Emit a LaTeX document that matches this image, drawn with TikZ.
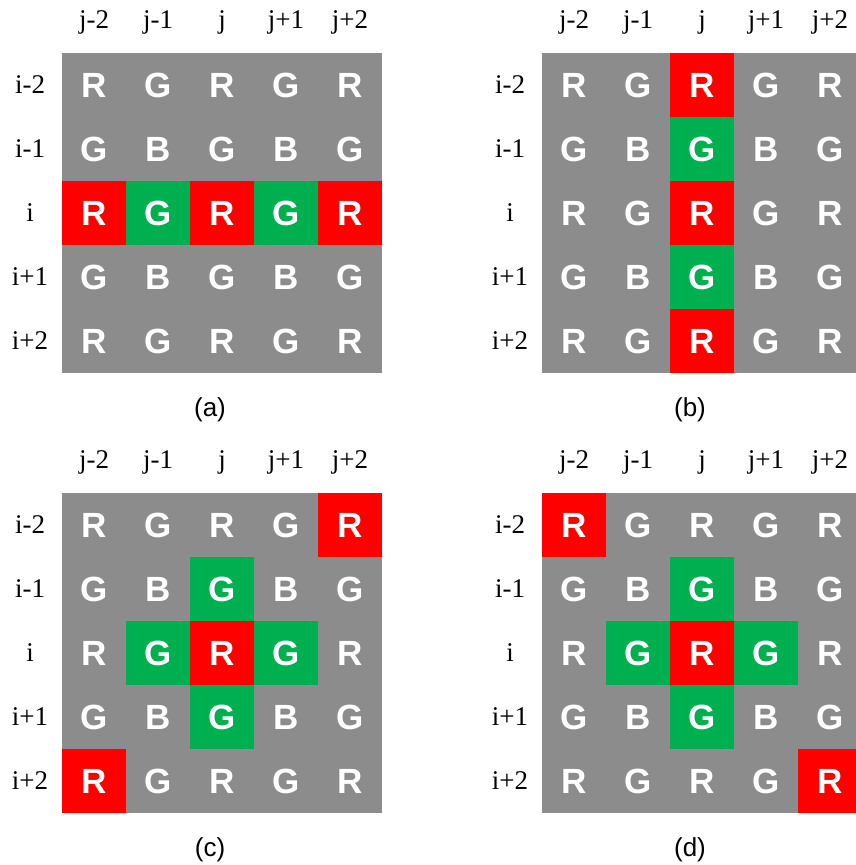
\documentclass[tikz,border=0pt]{standalone}
\usepackage{fontspec}
\setmainfont{Liberation Serif}
\newfontfamily\arialfont{Liberation Sans}
\usetikzlibrary{backgrounds}
\definecolor{cellgray}{HTML}{8C8C8C}
\definecolor{cellred}{HTML}{FF0000}
\definecolor{cellgreen}{HTML}{00B050}

% one 5x5 Bayer block: name, left, top
\newcommand{\bayergrid}[3]{%
    \foreach \r in {0,...,4} {
        \foreach \c in {0,...,4} {
            \node[cell] (#1-\r-\c) at (#2+32+64*\c, #3+32+64*\r)
                {\ifodd\r\relax\ifodd\c\relax B\else G\fi\else\ifodd\c\relax G\else R\fi\fi};
        }
    }
    \foreach \c/\lab in {0/j-2, 1/j-1, 2/j, 3/j+1, 4/j+2}
        \node[idx] (#1-col-\c) at (#2+32+64*\c, #3-31) {\lab};
    \foreach \r/\lab in {0/i-2, 1/i-1, 2/i, 3/i+1, 4/i+2}
        \node[idx] (#1-row-\r) at (#2-32, #3+32+64*\r) {\lab};
    \node[caption] (#1-cap) at (#2+148, #3+357) {(#1)};
    \begin{scope}[on background layer]
        \fill[cellgray] (#1-0-0.north west) rectangle (#1-4-4.south east);
    \end{scope}
}
\newcommand{\hlcell}[2]{\fill[#1] (#2.north west) rectangle (#2.south east);}

\begin{document}
\begin{tikzpicture}[
    x=1pt, y=-1pt,
    cell/.style={minimum size=64pt, inner sep=0pt, text=white, font=\arialfont\bfseries\fontsize{35}{40}\selectfont},
    idx/.style={inner sep=0pt, font=\fontsize{27}{30}\selectfont},
    caption/.style={inner sep=0pt, font=\arialfont\fontsize{26}{30}\selectfont}
]
    \clip (0,0) rectangle (855,865);

    \bayergrid{a}{62}{53}
    \bayergrid{b}{542}{53}
    \bayergrid{c}{62}{493}
    \bayergrid{d}{542}{493}

    \begin{scope}[on background layer]
        % (a) row i
        \foreach \n in {a-2-0, a-2-2, a-2-4} {\hlcell{cellred}{\n}}
        \foreach \n in {a-2-1, a-2-3} {\hlcell{cellgreen}{\n}}
        % (b) column j
        \foreach \n in {b-0-2, b-2-2, b-4-2} {\hlcell{cellred}{\n}}
        \foreach \n in {b-1-2, b-3-2} {\hlcell{cellgreen}{\n}}
        % (c) and (d) diagonals
        \foreach \n in {c-0-4, c-2-2, c-4-0, d-0-0, d-2-2, d-4-4} {\hlcell{cellred}{\n}}
        \foreach \n in {c-1-2, c-2-1, c-2-3, c-3-2, d-1-2, d-2-1, d-2-3, d-3-2} {\hlcell{cellgreen}{\n}}
    \end{scope}
\end{tikzpicture}
\end{document}
